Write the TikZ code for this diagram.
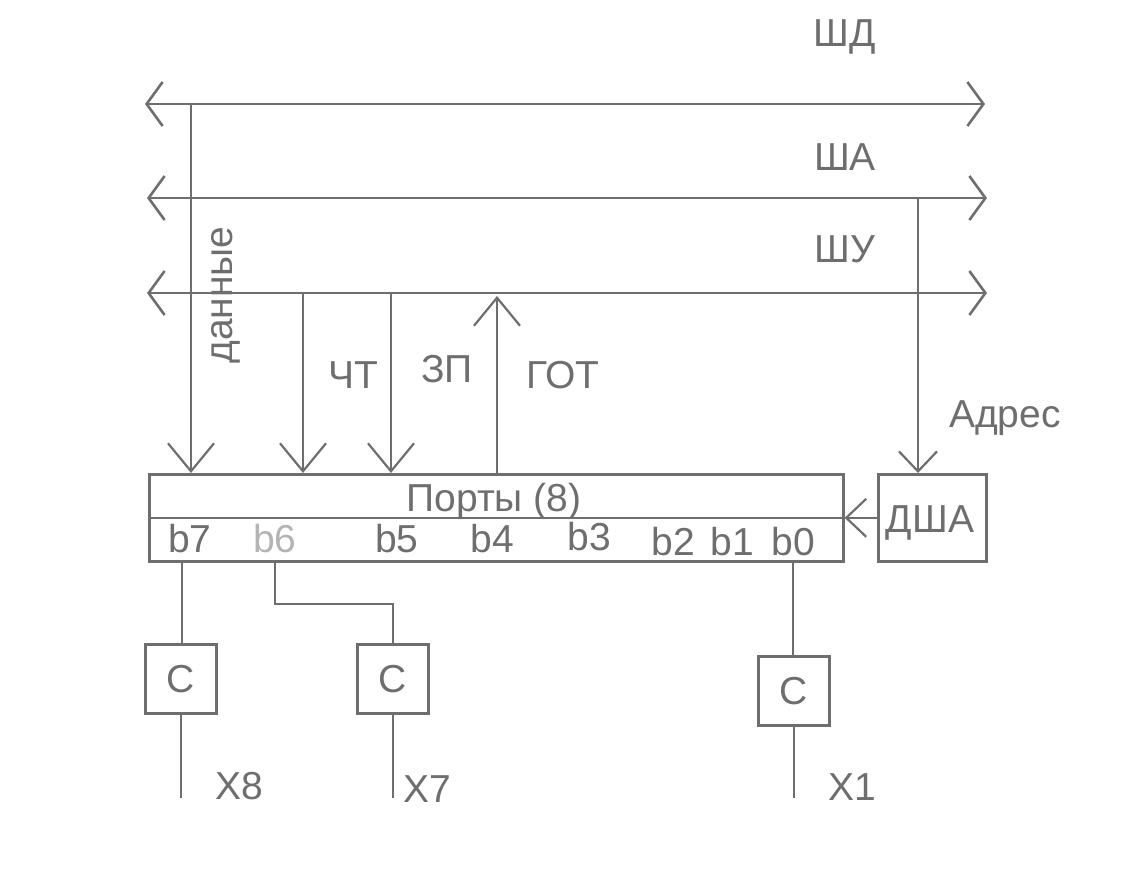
\documentclass[tikz,border=0pt]{standalone}
\usepackage{fontspec}
\setmainfont{Liberation Sans}
\usetikzlibrary{arrows.meta}
\definecolor{ink}{HTML}{6E6E6E}
\definecolor{faint}{HTML}{B4B4B4}
\begin{document}
\begin{tikzpicture}[x=1pt,y=-1pt,
  every node/.style={font=\fontsize{39}{44}\selectfont, text=ink, inner sep=0pt},
  lbl/.style={anchor=base},
  bus/.style={draw=ink, line width=2.6pt,
    {Straight Barb[length=16pt,width=44pt]}-{Straight Barb[length=16pt,width=44pt]}},
  sig/.style={draw=ink, line width=2.2pt},
  into/.style={sig, -{Straight Barb[length=28pt,width=46pt]}},
  intosmall/.style={sig, -{Straight Barb[length=20pt,width=38pt]}},
  frame/.style={draw=ink, line width=2.6pt},
  cbox/.style={frame, minimum width=71pt, minimum height=69pt},
]
\useasboundingbox (0,0) rectangle (1140,868);

% system buses
\coordinate (dbL) at (145,104);  \coordinate (dbR) at (985,104);
\coordinate (abL) at (147,198);  \coordinate (abR) at (987,198);
\coordinate (cbL) at (147,293);  \coordinate (cbR) at (987,293);
\draw[bus] (dbL) -- (dbR);
\draw[bus] (abL) -- (abR);
\draw[bus] (cbL) -- (cbR);
\node[lbl] (tDB) at (845,46) {ШД};
\node[lbl] (tAB) at (845,170) {ША};
\node[lbl] (tCB) at (845,262) {ШУ};

% port block and address decoder
\node[frame, minimum width=694pt, minimum height=87pt, anchor=north west] (ports) at (148,473) {};
\draw[frame] (ports.west) -- (ports.east);
\node[lbl] (tPorts) at (494,511) {Порты (8)};
\node[frame, minimum width=108pt, minimum height=87pt, anchor=north west] (dsha) at (877,473) {};
\node[lbl] (tDsha) at (930,532) {ДША};
\draw[intosmall] (dsha.west) -- (ports.east);

% bit labels
\node[lbl] (b7) at (190,552) {b7};
\node[lbl, text=faint] (b6) at (275,552) {b6};
\node[lbl] (b5) at (397,552) {b5};
\node[lbl] (b4) at (492,552) {b4};
\node[lbl] (b3) at (589,550) {b3};
\node[lbl] (b2) at (673,555) {b2};
\node[lbl] (b1) at (732,555) {b1};
\node[lbl] (b0) at (793,555) {b0};

% signals between buses and ports
\coordinate (dTop) at (191,104);
\coordinate (rdTop) at (303,293);
\coordinate (wrTop) at (391,293);
\coordinate (rdyTip) at (497,296);
\coordinate (adTop) at (918,198);
\draw[into] (dTop) -- (dTop |- ports.north);
\draw[into] (rdTop) -- (rdTop |- ports.north);
\draw[into] (wrTop) -- (wrTop |- ports.north);
\draw[into] (rdyTip |- ports.north) -- (rdyTip);
\draw[intosmall] (adTop) -- (adTop |- dsha.north);
\node[lbl, rotate=90] (tData) at (232,295) {данные};
\node[lbl] (tRd) at (353,388) {ЧТ};
\node[lbl] (tWr) at (447,382) {ЗП};
\node[lbl] (tRdy) at (563,388) {ГОТ};
\node[lbl] (tAddr) at (1005,427) {Адрес};

% output stages
\node[cbox] (c8) at (181,679) {C};
\node[cbox] (c7) at (393,679) {C};
\node[cbox] (c1) at (794,691) {C};
\coordinate (p7) at (182,560);
\coordinate (p6) at (275,560);
\coordinate (p0) at (793,560);
\draw[sig] (p7) -- (p7 |- c8.north);
\draw[sig] (p6) -- ++(0,44) -| (c7.north);
\draw[sig] (p0) -- (p0 |- c1.north);
\coordinate (x8) at (c8.south |- 0,798);
\coordinate (x7) at (c7.south |- 0,798);
\coordinate (x1) at (c1.south |- 0,798);
\draw[sig] (c8.south) -- (x8);
\draw[sig] (c7.south) -- (x7);
\draw[sig] (c1.south) -- (x1);
\node[lbl] (tX8) at (239,799) {X8};
\node[lbl] (tX7) at (427,802) {X7};
\node[lbl] (tX1) at (852,800) {X1};
\end{tikzpicture}
\end{document}
